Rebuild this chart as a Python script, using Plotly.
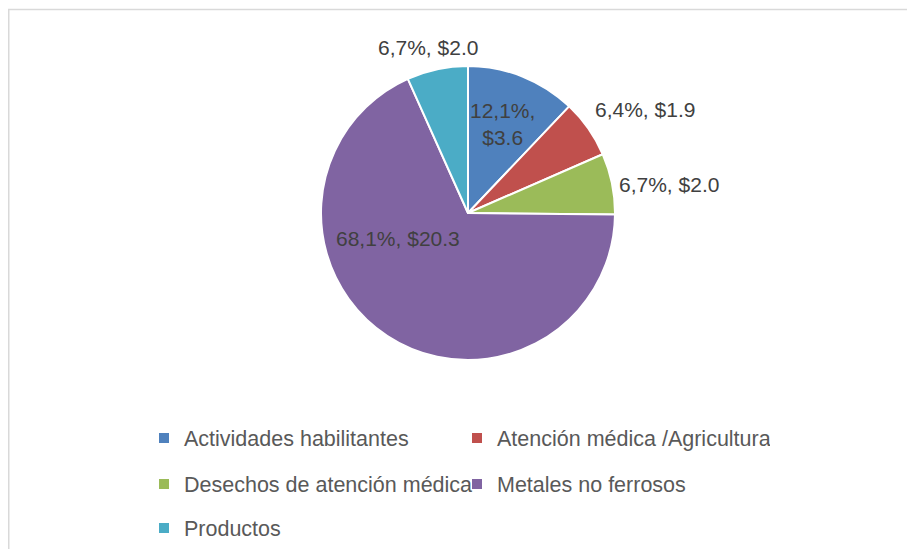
import plotly.graph_objects as go

# ---- data ----
categories = ["Actividades habilitantes", "Atención médica /Agricultura",
              "Desechos de atención médica", "Metales no ferrosos", "Productos"]
values = [3.6, 1.9, 2.0, 20.3, 2.0]

# ---- styles / layout helpers ----
colors = ["#4F81BD", "#C0504D", "#9BBB59", "#8064A2", "#4BACC6"]
legend_rows = ["legend", "legend", "legend2", "legend2", "legend3"]
# label centre positions in screen pixels (x, y from top) and line breaks
label_pos = [(502, 124), (645, 110), (669, 185), (398, 238), (428, 47)]
label_break = [True, False, False, False, False]

OFF = 8            # default page body margin
W, H = 899, 541    # figure size (fits the 915x557 window with the body margin)
FONT = "Liberation Sans"


def px(x):
    return (x - OFF) / W


def py(y):
    return 1 - (y - OFF) / H


cx, cy, r = 468, 213, 147

total = sum(values)
labels_txt = []
for v, br in zip(values, label_break):
    pct = f"{v / total * 100:.1f}".replace(".", ",") + "%,"
    money = f"${v:.1f}"
    labels_txt.append(pct + ("<br>" if br else " ") + money)

fig = go.Figure()
fig.add_trace(go.Pie(
    labels=categories, values=values, sort=False, direction="clockwise",
    rotation=0, textinfo="none", showlegend=False,
    marker=dict(colors=colors, line=dict(color="white", width=2)),
    domain=dict(x=[px(cx - r), px(cx + r)], y=[py(cy + r), py(cy - r)]),
    hoverinfo="label+value+percent",
))

for cat, col, lg in zip(categories, colors, legend_rows):
    fig.add_trace(go.Scatter(
        x=[None], y=[None], mode="markers", name=cat, legend=lg,
        marker=dict(symbol="square", size=10, color=col),
        hoverinfo="skip", showlegend=True,
    ))

for txt, (lx, ly) in zip(labels_txt, label_pos):
    fig.add_annotation(
        x=px(lx), y=py(ly), xref="paper", yref="paper", text=txt,
        showarrow=False, xanchor="center", yanchor="middle",
        font=dict(family=FONT, size=21, color="#404040"),
    )

legend_common = dict(orientation="h", xanchor="left", yanchor="middle",
                     entrywidth=268, entrywidthmode="pixels",
                     font=dict(family=FONT, size=21.5, color="#595959"),
                     bgcolor="rgba(0,0,0,0)", borderwidth=0)

fig.update_layout(
    width=W, height=H,
    margin=dict(l=0, r=0, t=0, b=0),
    paper_bgcolor="white", plot_bgcolor="white",
    font=dict(family=FONT),
    xaxis=dict(visible=False), yaxis=dict(visible=False),
    legend=dict(x=px(144), y=py(438), **legend_common),
    legend2=dict(x=px(144), y=py(484), **legend_common),
    legend3=dict(x=px(144), y=py(528), **legend_common),
    shapes=[dict(type="rect", xref="paper", yref="paper",
                 x0=0.75 / W, x1=1.05, y0=-0.05, y1=1 - 1.5 / H,
                 line=dict(color="#D9D9D9", width=1.5))],
)

fig.write_html("out.html")
